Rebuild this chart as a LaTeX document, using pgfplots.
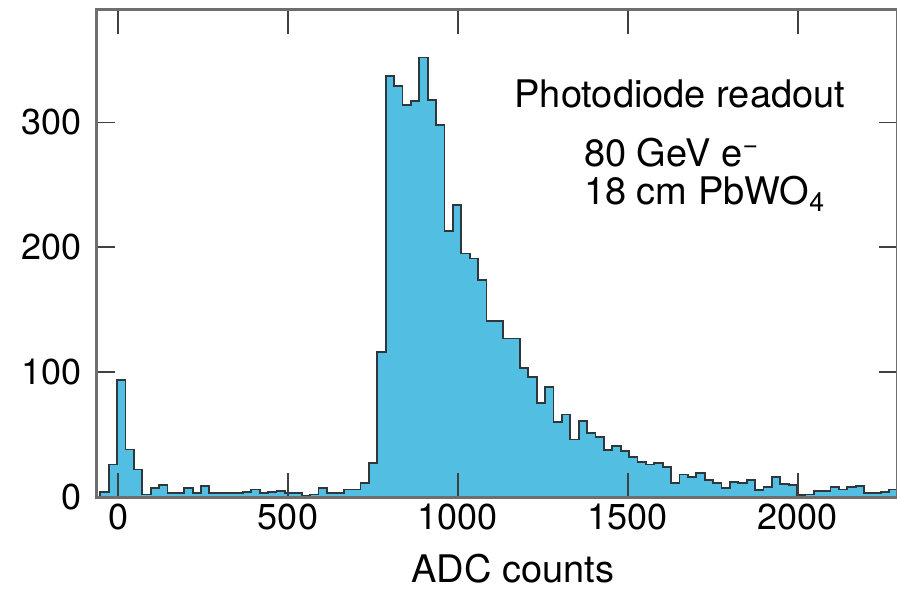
\documentclass[border=0pt]{standalone}
\usepackage{fontspec}
\setmainfont{TeX Gyre Heros}
\usepackage{pgfplots}
\usepackage{pgfplotstable}
\pgfplotsset{compat=1.18}
\definecolor{histfill}{RGB}{82,191,226}
\definecolor{histline}{RGB}{45,55,60}
\definecolor{framegray}{RGB}{110,110,110}
\pgfplotstableread{
x y
-52.4 4
-27.7 26
-3.0 94
21.7 38
46.4 22
71.1 2
95.8 7
120.5 9.5
145.2 3
169.9 3
194.6 7
219.3 3
244.0 9
268.7 3.5
293.4 3.5
318.1 3.5
342.8 3.5
367.5 4
392.2 6
416.9 3
441.6 4
466.3 5
491.0 3
515.7 3
540.4 0.8
565.1 2
589.8 7
614.5 3.5
639.2 3.5
663.9 6
688.6 6
713.3 11
738.0 27
762.7 116
787.4 337
812.1 329
836.8 314
861.5 317
886.2 352
910.9 318
935.6 298
960.3 213
985.0 234
1009.7 195
1034.4 191
1059.1 174
1083.8 141
1108.5 141
1133.2 127
1157.9 127
1182.6 103
1207.3 96
1232.0 75
1256.7 88
1281.4 60
1306.1 66
1330.8 46
1355.5 61
1380.2 51
1404.9 48
1429.6 37.6
1454.3 41
1479.0 37
1503.7 32
1528.4 28
1553.1 26
1577.8 27.5
1602.5 24
1627.2 11
1651.9 18
1676.6 16
1701.3 19
1726.0 13.6
1750.7 11
1775.4 7
1800.1 12
1824.8 11
1849.5 13.6
1874.2 5.6
1898.9 7.7
1923.6 15.7
1948.3 10.4
1973.0 9.6
1997.7 1.6
2022.4 2
2047.1 5
2071.8 5
2096.5 7.7
2121.2 6
2145.9 8
2170.6 8.8
2195.3 3
2220.0 3
2244.7 4
2269.4 6
2294.1 6
}\histdata
\begin{document}
\begin{tikzpicture}
\path[use as bounding box] (-48.5pt,-45.5pt) rectangle (400pt,248.5pt);
\begin{axis}[
  at={(0pt,0pt)}, anchor=south west,
  scale only axis, width=400pt, height=243.5pt,
  xmin=-62, xmax=2292, ymin=0, ymax=390,
  axis on top,
  axis line style={framegray, line width=1.5pt},
  xtick={0,500,1000,1500,2000},
  ytick={0,100,200,300},
  tick align=inside,
  xtick style={/pgfplots/major tick length=12pt, black!75, line width=0.8pt},
  ytick style={/pgfplots/major tick length=9pt, black!75, line width=0.8pt},
  ticklabel style={font=\fontsize{18}{20}\selectfont},
  yticklabel style={xshift=-4pt},
  /pgf/number format/assume math mode=true,
  /pgf/number format/1000 sep={},
  xlabel={ADC counts},
  xlabel style={font=\fontsize{19}{21}\selectfont, at={(axis description cs:0.52,0)}, anchor=center, yshift=-36pt},
]
\addplot[const plot, fill=histfill, draw=histline, line width=0.9pt] table[x=x,y=y] {\histdata} \closedcycle;
\node[font=\fontsize{19}{21}\selectfont, anchor=center] at (axis cs:1653,323) {Photodiode readout};
\node[font=\fontsize{19}{21}\selectfont, anchor=west, inner sep=0pt] at (axis cs:1370,276) {80 GeV e\textsuperscript{−}};
\node[font=\fontsize{19}{21}\selectfont, anchor=west, inner sep=0pt] at (axis cs:1370,243) {18 cm PbWO\textsubscript{4}};
\end{axis}
\end{tikzpicture}
\end{document}
